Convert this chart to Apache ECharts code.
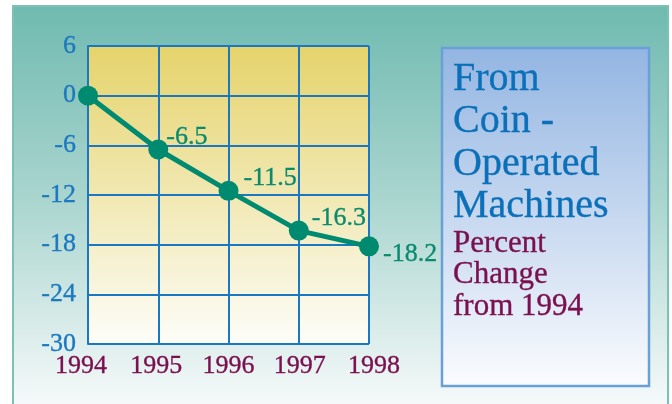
<!DOCTYPE html>
<html>
<head>
<meta charset="utf-8">
<script src="https://cdn.jsdelivr.net/npm/echarts@6/dist/echarts.min.js"></script>
<style>
  html, body { margin: 0; padding: 0; background: #ffffff; }
  #chart-container { width: 672px; height: 404px; }
</style>
</head>
<body>
<div id="chart-container"></div>
<script>
// data
var years = ['1994', '1995', '1996', '1997', '1998'];
var change = [0, -6.5, -11.5, -16.3, -18.2];
var yMin = -30, yMax = 6, yStep = 6;

// small nudges so labels sit like in the original
var yearShift = [-7, -2, 0, 1, 5];
var labelOffset = [null, [-5, -12], [2, -13], [0, -12], [1, 8]];

var serif = '"Liberation Serif", "DejaVu Serif", serif';

var dom = document.getElementById('chart-container');
var myChart = echarts.init(dom, null, { renderer: 'canvas' });

function vgrad(stops) {
  return { type: 'linear', x: 0, y: 0, x2: 0, y2: 1, colorStops: stops };
}

// serif text, a touch heavier like the printed original
function ink(color, size, extra) {
  var s = {
    fontFamily: serif, fontSize: size, fontWeight: 'normal', color: color,
    textBorderColor: color, textBorderWidth: 0.35
  };
  for (var k in extra) s[k] = extra[k];
  return s;
}

var xData = years.map(function (y, i) {
  var s = yearShift[i];
  return {
    value: y,
    textStyle: { padding: s < 0 ? [0, -2 * s, 0, 0] : [0, 0, 0, 2 * s] }
  };
});

var points = change.map(function (v, i) {
  var off = labelOffset[i];
  if (!off) return { value: v, label: { show: false } };
  return { value: v, label: { show: true, offset: off } };
});

var option = {
  backgroundColor: '#ffffff',
  animation: false,
  graphic: [
    {
      type: 'rect', z: -10,
      shape: { x: 13, y: 6, width: 655, height: 400 },
      style: {
        fill: vgrad([
          { offset: 0, color: '#6fbab0' },
          { offset: 0.5, color: '#acd6d0' },
          { offset: 1, color: '#f6fafa' }
        ]),
        stroke: '#7cc0b6', lineWidth: 2
      }
    },
    {
      type: 'rect', z: -5,
      shape: { x: 442, y: 48, width: 207, height: 338 },
      style: {
        fill: vgrad([
          { offset: 0, color: '#93b5e2' },
          { offset: 1, color: '#fbfcfe' }
        ]),
        stroke: '#6aa0d8', lineWidth: 2.5
      }
    }
  ],
  title: {
    left: 448,
    top: 53,
    itemGap: 0,
    text: 'From\nCoin -\nOperated\nMachines',
    textStyle: ink('#0b70b8', 40, { lineHeight: 42.5 }),
    subtext: 'Percent\nChange\nfrom 1994',
    subtextStyle: ink('#7a1050', 31, { lineHeight: 31.5 })
  },
  grid: {
    left: 88, right: 303, top: 46, bottom: 60,
    show: true,
    borderWidth: 0,
    backgroundColor: vgrad([
      { offset: 0, color: '#e5d36b' },
      { offset: 1, color: '#fdfdf9' }
    ])
  },
  xAxis: {
    type: 'category',
    boundaryGap: false,
    data: xData,
    axisLine: { show: true, lineStyle: { color: '#1a78c2', width: 2 } },
    axisTick: { show: false },
    splitLine: { show: true, lineStyle: { color: '#1a78c2', width: 2 } },
    axisLabel: ink('#7a1050', 26, { margin: 9 })
  },
  yAxis: {
    type: 'value',
    min: yMin, max: yMax, interval: yStep,
    axisLine: { show: true, lineStyle: { color: '#1a78c2', width: 2 } },
    axisTick: { show: false },
    splitLine: { show: true, lineStyle: { color: '#1a78c2', width: 2 } },
    axisLabel: ink('#1c78c0', 26, { margin: 12 })
  },
  series: [
    {
      type: 'line',
      data: points,
      symbol: 'circle',
      symbolSize: 20,
      lineStyle: { color: '#008a70', width: 5 },
      itemStyle: { color: '#008a70' },
      label: ink('#0a8a6e', 26, { position: 'right', distance: 3 })
    }
  ]
};

myChart.setOption(option);
</script>
</body>
</html>
